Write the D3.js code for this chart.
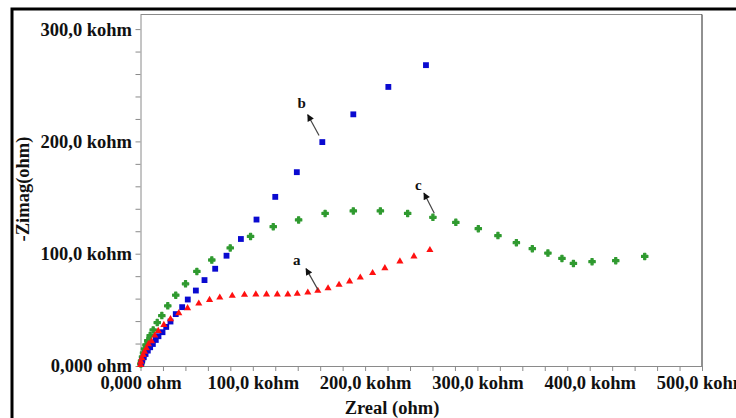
<!DOCTYPE html>
<html>
<head>
<meta charset="utf-8">
<script src="https://cdn.jsdelivr.net/npm/d3@7"></script>
<style>
  html, body { margin: 0; padding: 0; background: #fff; }
  svg { display: block; }
  text { font-family: "Liberation Serif", "Times New Roman", serif; font-weight: bold; fill: #111; }
</style>
</head>
<body>
<svg id="chart" width="736" height="418"></svg>
<script>
// ---- data (kohm) ----
const aZreal = [0.1, 0.3, 1.2, 2.4, 3.6, 5.3, 7.1, 9.8, 12.7, 15.8, 20.8, 26.7, 34.1, 41.9, 51.9, 61.5, 70.6, 81.7, 92.6, 102.7, 112.2, 121.8, 131.2, 139.6, 149.0, 157.9, 167.0, 176.8, 186.2, 195.7, 206.7, 217.6, 231.0, 243.5, 257.7];
const aZimag = [0.9, 3.8, 6.9, 9.8, 12.8, 15.8, 19.4, 22.1, 27.1, 31.3, 36.6, 41.7, 47.1, 51.5, 55.6, 58.9, 61.0, 62.5, 63.4, 63.8, 63.7, 63.7, 63.7, 64.3, 65.4, 67.0, 69.2, 72.3, 75.4, 78.8, 82.8, 87.2, 93.1, 97.6, 103.3];

const bZreal = [0.6, 1.5, 2.9, 4.5, 6.5, 8.6, 11.0, 13.6, 16.0, 19.6, 22.9, 26.7, 31.4, 37.1, 42.1, 49.3, 57.0, 66.5, 76.6, 89.4, 103.3, 120.0, 139.2, 161.9, 189.5, 220.7, 254.2];
const bZimag = [1.8, 4.7, 7.8, 10.7, 13.7, 16.7, 19.6, 23.2, 26.5, 30.1, 34.8, 39.6, 46.2, 52.4, 59.2, 67.2, 76.5, 86.6, 98.2, 113.1, 130.4, 150.6, 172.6, 199.4, 224.1, 248.5, 267.9];

const cZreal = [0.3, 0.9, 1.8, 2.7, 3.6, 4.9, 6.5, 8.6, 11.3, 14.9, 19.0, 24.3, 31.4, 40.1, 50.2, 63.5, 79.9, 98.0, 118.2, 140.8, 164.4, 189.5, 213.6, 237.9, 260.4, 280.8, 300.8, 318.3, 334.7, 348.9, 362.8, 375.3, 385.5, 402.1, 423.2, 449.0];
const cZimag = [1.8, 4.5, 8.0, 11.6, 15.2, 18.8, 22.6, 27.1, 32.1, 38.7, 44.9, 53.6, 63.1, 73.2, 84.2, 94.4, 105.1, 115.4, 124.1, 130.1, 135.9, 138.1, 138.1, 135.9, 132.4, 127.9, 122.3, 116.1, 109.8, 104.5, 100.6, 95.8, 91.3, 92.9, 93.8, 97.6];

const xTickValues = [0, 100, 200, 300, 400, 500];
const xTickLabels = ["0,000 ohm", "100,0 kohm", "200,0 kohm", "300,0 kohm", "400,0 kohm", "500,0 kohm"];
const yTickValues = [0, 100, 200, 300];
const yTickLabels = ["0,000 ohm", "100,0 kohm", "200,0 kohm", "300,0 kohm"];

const annLabels = ["a", "b", "c"];
const annLabelX = [139.1, 143.5, 247.4];
const annLabelY = [94.5, 234.2, 161.4];
const annTailX = [158.1, 159.0, 261.6];
const annTailY = [67.8, 205.3, 136.1];
const annTipX = [147.4, 148.9, 252.4];
const annTipY = [86.7, 223.8, 154.0];

// ---- layout ----
const svg = d3.select("#chart");
const L = 140.5, R = 702, T = 14.5, B = 366;
const x = d3.scaleLinear().domain([0, 500]).range([L, R]);
const y = d3.scaleLinear().domain([0, 313]).range([B, T]);
const FS = 18.5;

// outer frame (clipped at right/bottom)
svg.append("path").attr("d", "M12,418 V9 H736")
  .attr("fill", "none").attr("stroke", "#000").attr("stroke-width", 3);

// plot frame
svg.append("line").attr("x1", L).attr("x2", R).attr("y1", T).attr("y2", T).attr("stroke", "#8a8a8a");
svg.append("line").attr("x1", R).attr("x2", R).attr("y1", T).attr("y2", B).attr("stroke", "#222");

// axes
const fmtX = d => { const i = xTickValues.indexOf(d); return i >= 0 ? xTickLabels[i] : ""; };
const fmtY = d => { const i = yTickValues.indexOf(d); return i >= 0 ? yTickLabels[i] : ""; };

const xAxis = svg.append("g").attr("transform", `translate(0,${B})`)
  .call(d3.axisBottom(x).tickValues(d3.range(0, 501, 20)).tickSize(5).tickSizeOuter(0).tickFormat(fmtX));
const yAxis = svg.append("g").attr("transform", `translate(${L},0)`)
  .call(d3.axisLeft(y).tickValues(d3.range(0, 301, 20)).tickSize(5).tickSizeOuter(0).tickFormat(fmtY));

[xAxis, yAxis].forEach(g => {
  g.select(".domain").attr("stroke", "#8a8a8a");
  g.selectAll(".tick line").attr("stroke", "#8a8a8a");
  g.selectAll(".tick text").attr("font-family", "Liberation Serif, serif")
    .attr("font-weight", "bold").attr("font-size", FS).attr("fill", "#111");
});
xAxis.selectAll(".tick text").attr("dy", "0.9em").attr("y", 6);
yAxis.selectAll(".tick text").attr("x", -8.5).attr("dy", "0.32em");

// axis titles
svg.append("text").attr("x", 392).attr("y", 414).attr("text-anchor", "middle")
  .attr("font-size", FS).text("Zreal (ohm)");
svg.append("text").attr("transform", "translate(29,189) rotate(-90)").attr("text-anchor", "middle")
  .attr("font-size", FS).text("-Zimag(ohm)");

// series
const plot = svg.append("g");
const ptsA = aZreal.map((v, i) => [v, aZimag[i]]);
const ptsB = bZreal.map((v, i) => [v, bZimag[i]]);
const ptsC = cZreal.map((v, i) => [v, cZimag[i]]);

plot.selectAll(".c").data(ptsC).join("path").attr("class", "c")
  .attr("transform", d => `translate(${x(d[0])},${y(d[1])})`)
  .attr("d", d3.symbol(d3.symbolCross, 22)).attr("fill", "#2f9a2f")
  .attr("stroke", "#2f9a2f").attr("stroke-width", 1.2).attr("stroke-linejoin", "round");

plot.selectAll(".b").data(ptsB).join("path").attr("class", "b")
  .attr("transform", d => `translate(${x(d[0])},${y(d[1])})`)
  .attr("d", d3.symbol(d3.symbolSquare, 34)).attr("fill", "#0a0ad0");

plot.selectAll(".a").data(ptsA).join("path").attr("class", "a")
  .attr("transform", d => `translate(${x(d[0])},${y(d[1])})`)
  .attr("d", d3.symbol(d3.symbolTriangle, 22)).attr("fill", "#ff1010");

// annotations
svg.append("defs").append("marker").attr("id", "ah")
  .attr("viewBox", "0 0 10 10").attr("refX", 9).attr("refY", 5)
  .attr("markerWidth", 9).attr("markerHeight", 7).attr("markerUnits", "userSpaceOnUse")
  .attr("orient", "auto")
  .append("path").attr("d", "M0,0 L10,5 L0,10 Z").attr("fill", "#111");

annLabels.forEach((lab, i) => {
  svg.append("line")
    .attr("x1", x(annTailX[i])).attr("y1", y(annTailY[i]))
    .attr("x2", x(annTipX[i])).attr("y2", y(annTipY[i]))
    .attr("stroke", "#444").attr("stroke-width", 1.2).attr("marker-end", "url(#ah)");
  svg.append("text").attr("x", x(annLabelX[i])).attr("y", y(annLabelY[i]))
    .attr("text-anchor", "middle").attr("dy", "0.35em").attr("font-size", 15).text(lab);
});
</script>
</body>
</html>
